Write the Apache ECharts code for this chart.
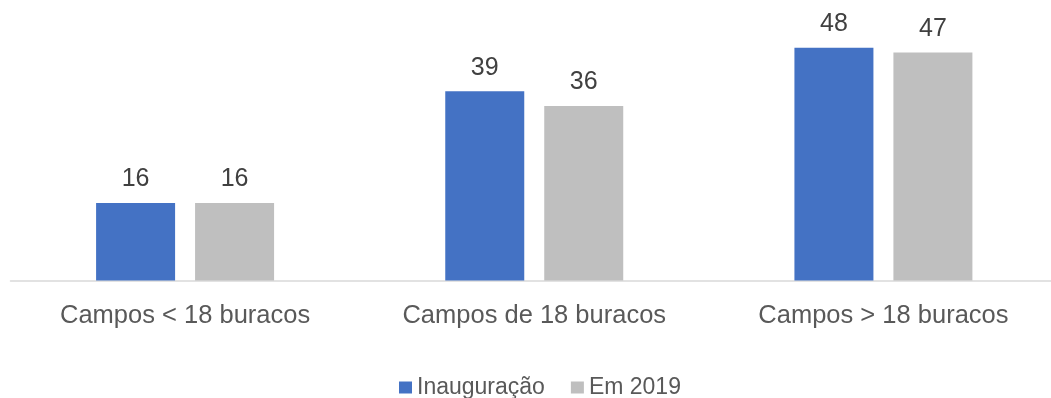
<!DOCTYPE html>
<html>
<head>
<meta charset="utf-8">
<style>
  html, body { margin: 0; padding: 0; background: #ffffff; overflow: hidden; }
  #chart { width: 1058px; height: 398px; }
</style>
<script src="https://cdn.jsdelivr.net/npm/echarts@6/dist/echarts.min.js"></script>
</head>
<body>
<div id="chart"></div>
<script>
// Average course age (years) by course size
const categories = ['Campos < 18 buracos', 'Campos de 18 buracos', 'Campos > 18 buracos'];
const seriesNames = ['Inauguração', 'Em 2019'];
const inauguracao = [16, 39, 48];
const em2019 = [16, 36, 47];
const colors = ['#4472C4', '#BFBFBF'];

const FONT = '"Liberation Sans", Arial, sans-serif';

const chart = echarts.init(document.getElementById('chart'), null, { renderer: 'canvas' });

const labelStyle = {
  show: true,
  position: 'top',
  distance: 11,
  color: '#404040',
  fontSize: 25,
  fontFamily: FONT
};

chart.setOption({
  animation: false,
  color: colors,
  textStyle: { fontFamily: FONT },
  grid: { left: 10.5, right: 0, top: 38, bottom: 117.5, containLabel: false },
  legend: {
    data: seriesNames,
    left: 394,
    top: 371,
    itemWidth: 13,
    itemHeight: 12,
    itemGap: 26,
    icon: 'rect',
    textStyle: { color: '#595959', fontSize: 23, fontFamily: FONT }
  },
  xAxis: {
    type: 'category',
    data: categories,
    axisLine: { show: true, lineStyle: { color: '#D9D9D9', width: 1.5 } },
    axisTick: { show: false },
    axisLabel: { color: '#595959', fontSize: 25.5, fontFamily: FONT, margin: 22 }
  },
  yAxis: {
    type: 'value',
    min: 0,
    max: 50,
    show: false,
    splitLine: { show: false }
  },
  series: [
    {
      name: seriesNames[0],
      type: 'bar',
      data: inauguracao,
      barWidth: 79,
      barGap: '25.3%',
      itemStyle: { color: colors[0] },
      label: labelStyle
    },
    {
      name: seriesNames[1],
      type: 'bar',
      data: em2019,
      barWidth: 79,
      barGap: '25.3%',
      itemStyle: { color: colors[1] },
      label: labelStyle
    }
  ]
});
</script>
</body>
</html>
